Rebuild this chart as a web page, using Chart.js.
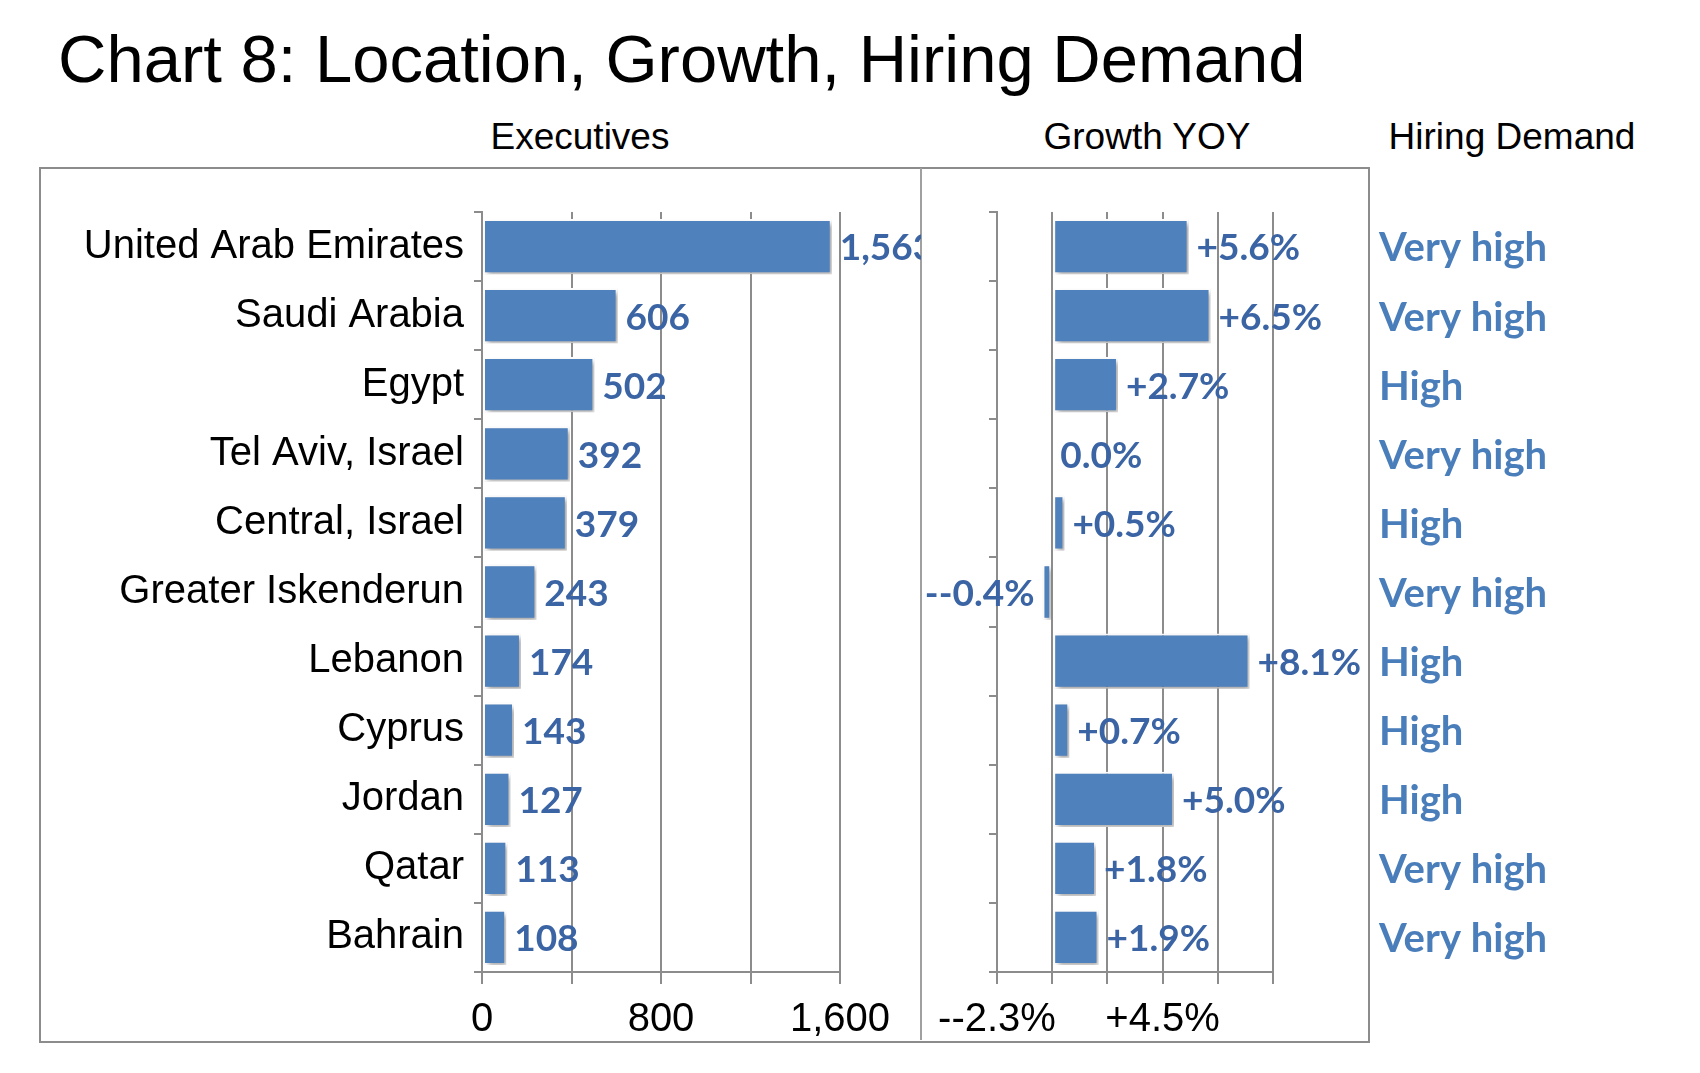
<!DOCTYPE html>
<html>
<head>
<meta charset="utf-8">
<script src="https://cdn.jsdelivr.net/npm/chart.js@4"></script>
<style>
  body { margin: 0; width: 1700px; height: 1073px; background: #fff; position: relative; overflow: hidden; font-family: "Liberation Sans", Arial, sans-serif; }
  .txt { position: absolute; color: #000; white-space: nowrap; }
  #box { position: absolute; left: 39px; top: 167px; width: 1327px; height: 872px; border: 2px solid #8c8c8c; }
  #divider { position: absolute; left: 920px; top: 168px; width: 2px; height: 872px; background: #a0a0a0; }
  canvas { position: absolute; }
</style>
</head>
<body>
<div class="txt" style="left:58px; top:20px; font-size:67px;">Chart 8: Location, Growth, Hiring Demand</div>
<div class="txt" style="left:580px; top:116px; font-size:37px; transform:translateX(-50%);">Executives</div>
<div class="txt" style="left:1147px; top:116px; font-size:37px; transform:translateX(-50%);">Growth YOY</div>
<div class="txt" style="left:1512px; top:116px; font-size:37px; transform:translateX(-50%);">Hiring Demand</div>
<div id="box"></div>
<div id="divider"></div>
<div style="position:absolute; left:41px; top:169px; width:880px; height:872px;"><canvas id="execChart"></canvas></div>
<div style="position:absolute; left:921px; top:169px; width:779px; height:872px;"><canvas id="growthChart"></canvas></div>

<script>
// data
const locations = ['United Arab Emirates', 'Saudi Arabia', 'Egypt', 'Tel Aviv, Israel', 'Central, Israel',
  'Greater Iskenderun', 'Lebanon', 'Cyprus', 'Jordan', 'Qatar', 'Bahrain'];
const executives = [1563, 606, 502, 392, 379, 243, 174, 143, 127, 113, 108];
const growth = [5.6, 6.5, 2.7, 0.0, 0.5, -0.4, 8.1, 0.7, 5.0, 1.8, 1.9];
const hiringDemand = ['Very high', 'Very high', 'High', 'Very high', 'High', 'Very high', 'High', 'High', 'High', 'Very high', 'Very high'];
const execTickLabels = { 0: '0', 800: '800', 1600: '1,600' };
const growthTicks = [-2.2667, 0, 2.2667, 4.5333, 6.8, 9.0667];
const growthTickLabels = ['--2.3%', '', '', '+4.5%', '', ''];

const BAR = '#4f81bd';
const LABEL = '#3b64a4';
const HIRE = '#4a7ebb';
const GRID = '#8c8c8c';

// shadow behind bars
const shadowPlugin = {
  id: 'shadow',
  beforeDatasetsDraw(chart) {
    const ctx = chart.ctx;
    ctx.save();
    ctx.shadowColor = 'rgba(0,0,0,0.35)';
    ctx.shadowOffsetX = 3;
    ctx.shadowOffsetY = 3;
    ctx.shadowBlur = 5;
  },
  afterDatasetsDraw(chart) {
    chart.ctx.restore();
  }
};

// value labels at bar ends
function valueLabels(format, extra) {
  return {
    id: 'valueLabels',
    afterDraw(chart) {
      const ctx = chart.ctx;
      const meta = chart.getDatasetMeta(0);
      const vals = chart.data.datasets[0].data;
      ctx.save();
      ctx.font = 'bold 37px Lato, "Open Sans", sans-serif';
      ctx.fillStyle = LABEL;
      ctx.textBaseline = 'middle';
      meta.data.forEach((bar, i) => {
        const v = vals[i];
        if (v < 0) {
          ctx.textAlign = 'right';
          ctx.fillText(format(v), bar.x - 8, bar.y + 2);
        } else {
          ctx.textAlign = 'left';
          ctx.fillText(format(v), bar.x + 8, bar.y + 2);
        }
      });
      if (extra) extra(chart, ctx);
      ctx.restore();
    }
  };
}

const catFont = { family: '"Liberation Sans", Arial, sans-serif', size: 40 };

new Chart('execChart', {
  type: 'bar',
  data: {
    labels: locations,
    datasets: [{
      data: executives,
      backgroundColor: BAR,
      borderColor: '#ffffff',
      borderWidth: 2,
      borderSkipped: false,
      categoryPercentage: 1,
      barPercentage: 0.8
    }]
  },
  options: {
    indexAxis: 'y',
    responsive: true,
    maintainAspectRatio: false,
    animation: false,
    layout: { padding: { top: 43, right: 81, left: 0, bottom: 0 } },
    plugins: { legend: { display: false }, tooltip: { enabled: false } },
    scales: {
      x: {
        min: 0, max: 1600,
        ticks: {
          stepSize: 400,
          color: '#000',
          font: catFont,
          padding: 12,
          maxRotation: 0,
          autoSkip: false,
          callback: v => execTickLabels[v] ?? ''
        },
        grid: { color: GRID, lineWidth: 2, tickLength: 12, tickColor: GRID },
        border: { color: GRID, width: 2 },
        afterFit(scale) { scale.height = 69; }
      },
      y: {
        ticks: { color: '#000', font: catFont, padding: 10, autoSkip: false },
        grid: { display: true, drawOnChartArea: false, offset: true, tickLength: 8, color: GRID, lineWidth: 2 },
        border: { color: GRID, width: 2 },
        afterFit(scale) { scale.width = 441; }
      }
    }
  },
  plugins: [shadowPlugin, valueLabels(v => v.toLocaleString('en-US'))]
});

function fmtGrowth(v) {
  if (v > 0) return '+' + v.toFixed(1) + '%';
  if (v < 0) return '-' + v.toFixed(1) + '%';
  return '0.0%';
}

new Chart('growthChart', {
  type: 'bar',
  data: {
    labels: locations,
    datasets: [{
      data: growth,
      backgroundColor: BAR,
      borderColor: '#ffffff',
      borderWidth: 2,
      borderSkipped: false,
      categoryPercentage: 1,
      barPercentage: 0.8
    }]
  },
  options: {
    indexAxis: 'y',
    responsive: true,
    maintainAspectRatio: false,
    animation: false,
    layout: { padding: { top: 43, right: 427, left: 0, bottom: 0 } },
    plugins: { legend: { display: false }, tooltip: { enabled: false } },
    scales: {
      x: {
        min: growthTicks[0], max: growthTicks[growthTicks.length - 1],
        afterBuildTicks(scale) { scale.ticks = growthTicks.map(v => ({ value: v })); },
        ticks: {
          color: '#000',
          font: catFont,
          padding: 12,
          maxRotation: 0,
          autoSkip: false,
          callback: (v, i) => growthTickLabels[i]
        },
        grid: { color: GRID, lineWidth: 2, tickLength: 12, tickColor: GRID },
        border: { color: GRID, width: 2 },
        afterFit(scale) { scale.height = 69; }
      },
      y: {
        ticks: { display: false },
        grid: { display: true, drawOnChartArea: false, offset: true, tickLength: 8, color: GRID, lineWidth: 2 },
        border: { color: GRID, width: 2 },
        afterFit(scale) { scale.width = 76; }
      }
    }
  },
  plugins: [shadowPlugin, valueLabels(fmtGrowth, (chart, ctx) => {
    // hiring demand column
    const yScale = chart.scales.y;
    ctx.font = 'bold 40px Lato, "Open Sans", sans-serif';
    ctx.fillStyle = HIRE;
    ctx.textAlign = 'left';
    hiringDemand.forEach((h, i) => {
      ctx.fillText(h, 458, yScale.getPixelForValue(i) + 2);
    });
  })]
});
</script>
</body>
</html>
